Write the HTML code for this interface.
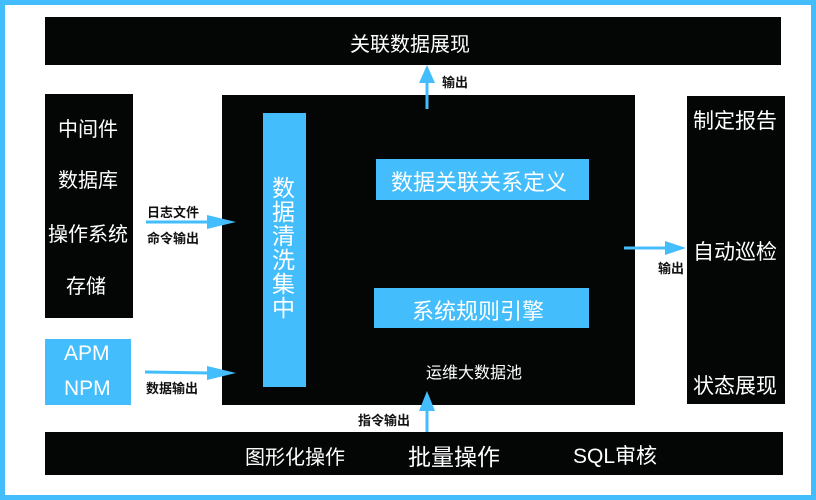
<!DOCTYPE html>
<html><head><meta charset="utf-8"><style>
body{margin:0;width:816px;height:500px;position:relative;overflow:hidden;background:#fff;font-family:"Liberation Sans","Noto Sans CJK SC",sans-serif}
.b{position:absolute;background:#040606}
.c{position:absolute;background:#43bdfb}
.t{position:absolute;color:#fff;white-space:nowrap}
.k{position:absolute;color:#111;font-size:13px;font-weight:bold;white-space:nowrap}
</style></head><body>
<div style="position:absolute;left:0;top:0;width:806px;height:490px;border:5px solid #43bdfb"></div>
<div class="b" style="left:45px;top:17px;width:736px;height:48px"></div>
<div class="t" style="left:350px;top:28px;font-size:20px">关联数据展现</div>
<div class="b" style="left:45px;top:94px;width:88px;height:224px"></div>
<div class="t" style="left:58px;top:113px;font-size:20px">中间件</div>
<div class="t" style="left:58px;top:164px;font-size:20px">数据库</div>
<div class="t" style="left:48px;top:218px;font-size:20px">操作系统</div>
<div class="t" style="left:66px;top:270px;font-size:20px">存储</div>
<div class="c" style="left:45px;top:339px;width:86px;height:66px"></div>
<div class="t" style="left:64px;top:342px;font-size:21px">APM</div>
<div class="t" style="left:64px;top:377px;font-size:21px">NPM</div>
<div class="b" style="left:222px;top:95px;width:413px;height:310px"></div>
<div class="c" style="left:263px;top:113px;width:43px;height:274px"></div>
<div class="t" style="left:272px;top:176px;font-size:23px;width:24px;line-height:24px;white-space:normal">数据清洗集中</div>
<div class="c" style="left:376px;top:159px;width:213px;height:41px"></div>
<div class="t" style="left:391px;top:165px;font-size:22px">数据关联关系定义</div>
<div class="c" style="left:374px;top:288px;width:215px;height:40px"></div>
<div class="t" style="left:412px;top:294px;font-size:22px">系统规则引擎</div>
<div class="t" style="left:426px;top:359px;font-size:16px">运维大数据池</div>
<div class="b" style="left:687px;top:96px;width:98px;height:308px"></div>
<div class="t" style="left:693px;top:105px;font-size:21px">制定报告</div>
<div class="t" style="left:693px;top:236px;font-size:21px">自动巡检</div>
<div class="t" style="left:693px;top:370px;font-size:21px">状态展现</div>
<div class="b" style="left:45px;top:432px;width:738px;height:43px"></div>
<div class="t" style="left:245px;top:441px;font-size:20px">图形化操作</div>
<div class="t" style="left:408px;top:438px;font-size:23px">批量操作</div>
<div class="t" style="left:573px;top:440px;font-size:21px">SQL审核</div>
<div class="k" style="left:147px;top:202px">日志文件</div>
<div class="k" style="left:147px;top:228px">命令输出</div>
<div class="k" style="left:146px;top:378px">数据输出</div>
<div class="k" style="left:442px;top:72px">输出</div>
<div class="k" style="left:658px;top:258px">输出</div>
<div class="k" style="left:358px;top:410px">指令输出</div>
<svg style="position:absolute;left:0;top:0" width="816" height="500">
<g fill="#43bdfb" stroke="#43bdfb">
<line x1="146" y1="222" x2="210" y2="222" stroke-width="3"/><polygon points="207,215 236,222 207,229" stroke="none"/>
<line x1="145" y1="372" x2="210" y2="373" stroke-width="3"/><polygon points="207,366 236,373 207,380" stroke="none"/>
<line x1="624" y1="248" x2="665" y2="248" stroke-width="3"/><polygon points="665,241 686,248 665,255" stroke="none"/>
<line x1="427" y1="109" x2="427" y2="80" stroke-width="3"/><polygon points="419,83 427,65 435,83" stroke="none"/>
<line x1="427" y1="432" x2="427" y2="405" stroke-width="3"/><polygon points="419,411 427,391 435,411" stroke="none"/>
</g></svg>
</body></html>
